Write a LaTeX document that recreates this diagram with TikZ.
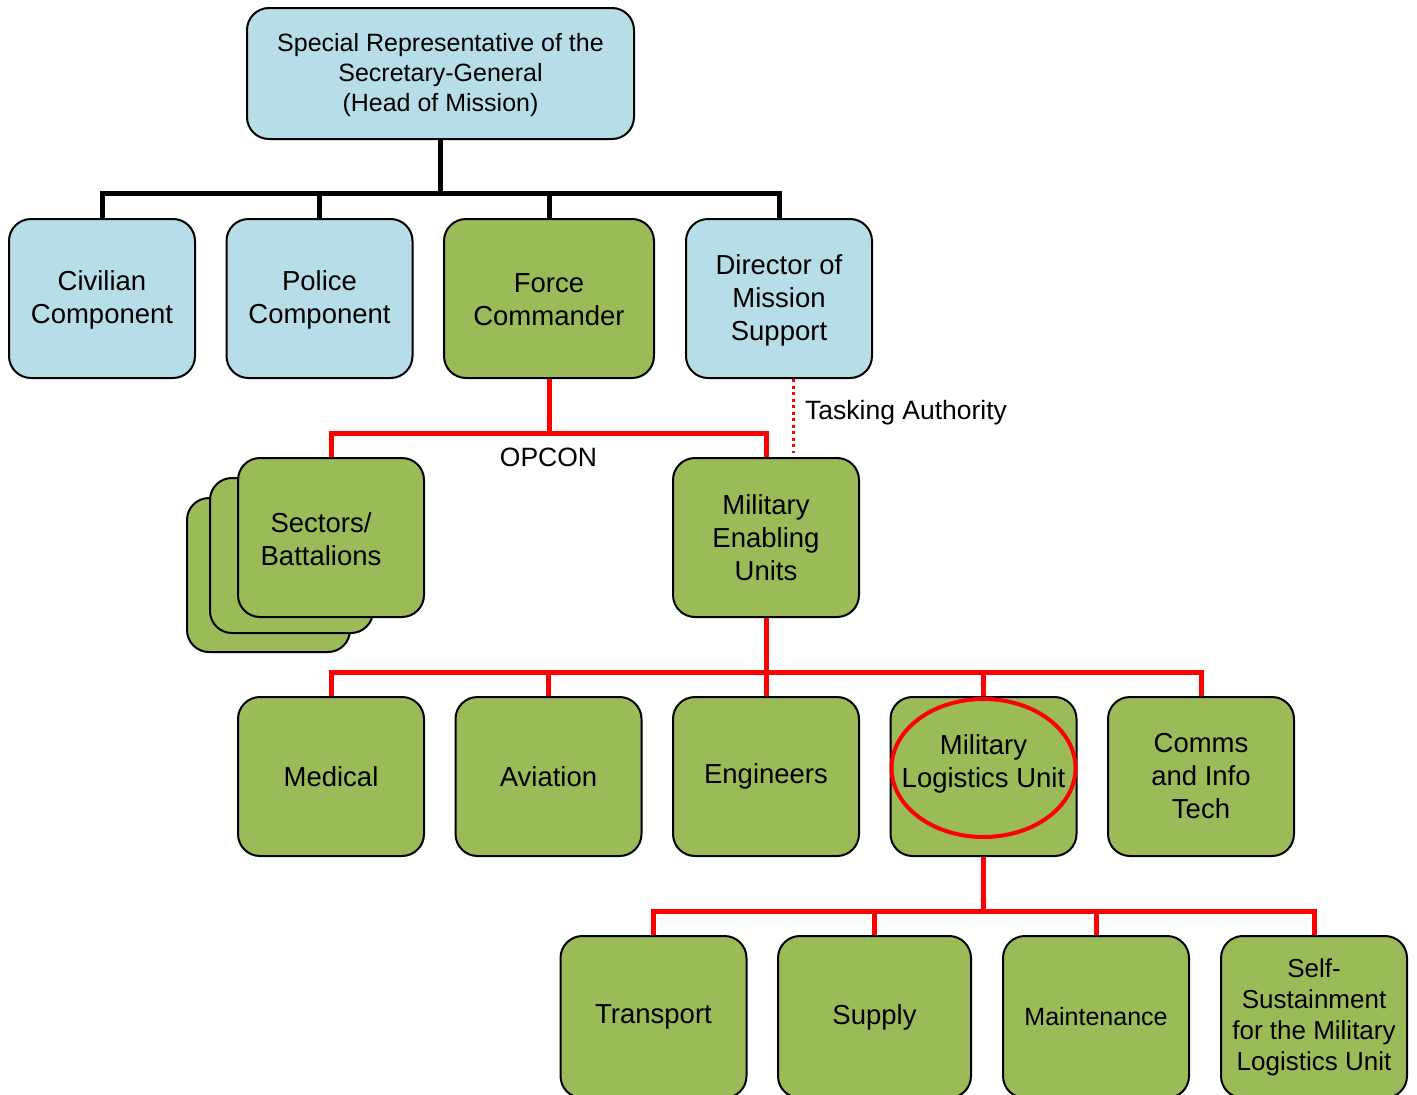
\documentclass[tikz,border=0pt]{standalone}
\usepackage{fontspec}
\setmainfont{Liberation Sans}
\definecolor{lblue}{HTML}{B7DEE8}
\definecolor{lgreen}{HTML}{9BBB59}
\begin{document}
\begin{tikzpicture}[x=1pt,y=-1pt,
  box/.style={draw=black, line width=2pt, rounded corners=22pt, inner sep=0pt, align=center,
    font=\fontsize{27.5}{33}\selectfont},
  bluebox/.style={box, fill=lblue},
  greenbox/.style={box, fill=lgreen},
  boxtext/.style={inner sep=0pt, align=center, font=\fontsize{27.5}{33}\selectfont},
  blackline/.style={draw=black, line width=5pt},
  redline/.style={draw=red, line width=5pt},
  lbl/.style={inner sep=0pt, font=\fontsize{26.5}{32}\selectfont}]
\useasboundingbox (0,0) rectangle (1417,1095);

% top
\node[bluebox, minimum width=387pt, minimum height=131pt] (srsg) at (440.5,73.5) {};
\node[boxtext, font=\fontsize{25}{30}\selectfont] (srsgtext) at (440.5,75.5)
  {Special Representative of the\\Secretary-General\\(Head of Mission)};

% row 2
\node[bluebox, minimum width=186pt, minimum height=159pt] (civ) at (102,298.5) {\rule{0pt}{22pt}Civilian\\Component};
\node[bluebox, minimum width=186pt, minimum height=159pt] (pol) at (319.5,298.5) {\rule{0pt}{22pt}Police\\Component};
\node[greenbox, minimum width=210pt, minimum height=159pt] (fc) at (549,298.5) {\rule{0pt}{22pt}Force\\Commander};
\node[bluebox, minimum width=186pt, minimum height=159pt] (dms) at (779,298.5) {\rule{0pt}{23pt}Director of\\Mission\\Support};

% stacked sectors
\draw[box, fill=lgreen] (187,498) rectangle (350,652);
\draw[box, fill=lgreen] (210,478) rectangle (373,633);
\node[greenbox, minimum width=186pt, minimum height=159pt] (sect) at (331,537.5) {};
\node[boxtext] (secttext) at (321,539) {Sectors/\\Battalions};

\node[greenbox, minimum width=186pt, minimum height=159pt] (meu) at (766,537.5) {Military\\Enabling\\Units};

% row 4
\node[greenbox, minimum width=186pt, minimum height=159pt] (med) at (331,776.5) {Medical};
\node[greenbox, minimum width=186pt, minimum height=159pt] (avi) at (548.5,776.5) {Aviation};
\node[greenbox, minimum width=186pt, minimum height=159pt] (eng) at (766,776.5) {Engineers};
\node[greenbox, minimum width=186pt, minimum height=159pt] (mlu) at (983.5,776.5) {};
\node[boxtext] (mlutext) at (983.5,763.5) {Military\\Logistics Unit};
\node[greenbox, minimum width=186pt, minimum height=159pt] (cit) at (1201,776.5) {Comms\\and Info\\Tech};

% row 5
\node[greenbox, minimum width=186pt, minimum height=162pt] (tra) at (653.5,1017) {Transport};
\node[greenbox, minimum width=193pt, minimum height=162pt] (sup) at (874.5,1017) {Supply};
\node[greenbox, minimum width=186pt, minimum height=162pt, font=\fontsize{25}{30}\selectfont] (mai) at (1096,1017) {Maintenance};
\node[greenbox, minimum width=186pt, minimum height=162pt, font=\fontsize{26}{31}\selectfont] (ssm) at (1314,1017) {Self-\\Sustainment\\for the Military\\Logistics Unit};

% black tree
\coordinate (b1) at (440.5,193);
\draw[blackline] (srsg.south) -- (b1);
\draw[blackline] (civ.north) |- (b1);
\draw[blackline] (pol.north) |- (b1);
\draw[blackline] (fc.north) |- (b1);
\draw[blackline] (dms.north) |- (b1);

% red OPCON tree
\coordinate (b2) at (549,433);
\draw[redline] (fc.south) -- (b2);
\draw[redline] (sect.north) |- (b2);
\draw[redline] (meu.north) |- (b2);
\node[lbl, anchor=north] (opcon) at (548.5,448) {OPCON};

% tasking authority
\coordinate (ta) at (793,453);
\draw[red, line width=3pt, dash pattern=on 3pt off 3.5pt] (ta |- dms.south) -- (ta);
\node[lbl, anchor=west] (talbl) at (805,413) {Tasking Authority};

% MEU tree
\coordinate (b3) at (766,672);
\draw[redline] (meu.south) -- (b3);
\draw[redline] (med.north) |- (b3);
\draw[redline] (avi.north) |- (b3);
\draw[redline] (eng.north) |- (b3);
\draw[redline] (mlu.north) |- (b3);
\draw[redline] (cit.north) |- (b3);

% MLU tree
\coordinate (b4) at (983.5,911);
\draw[redline] (mlu.south) -- (b4);
\draw[redline] (tra.north) |- (b4);
\draw[redline] (sup.north) |- (b4);
\draw[redline] (mai.north) |- (b4);
\draw[redline] (ssm.north) |- (b4);

% highlight ellipse
\draw[red, line width=4pt] (983.5,768) ellipse [x radius=92, y radius=69];
\end{tikzpicture}
\end{document}
